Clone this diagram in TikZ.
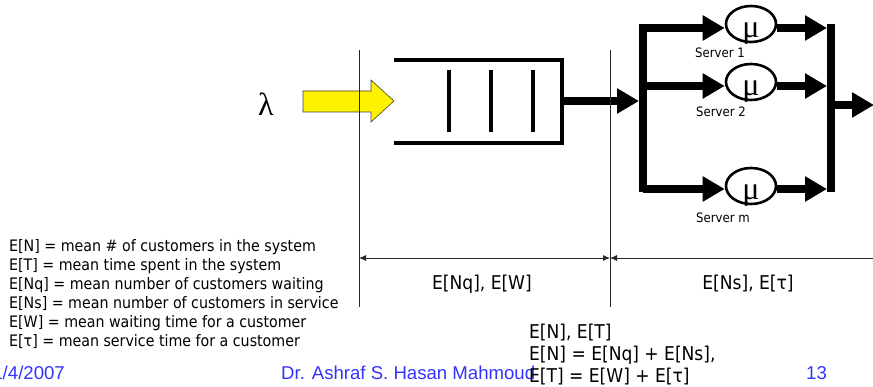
\documentclass[tikz,border=0pt]{standalone}
\usepackage{fontspec}
\setmainfont{DejaVu Sans Condensed}
\newfontfamily\footfont{Liberation Sans}
\newfontfamily\greekfont{Liberation Serif}
\usetikzlibrary{arrows.meta,shapes.geometric}

\definecolor{footblue}{RGB}{51,51,255}
\definecolor{dimgray}{RGB}{40,40,40}

\tikzset{
  fatarrow/.style={line width=7.5pt, -{Triangle[length=22pt,width=24pt]}},
  fatbar/.style={line width=8pt},
  server/.style={ellipse, draw, line width=2.6pt, minimum width=50pt, minimum height=36pt, inner sep=0pt},
  mutext/.style={anchor=base, inner sep=0pt, font=\greekfont\fontsize{32}{32}\selectfont},
  srvlabel/.style={anchor=base west, inner sep=0pt, font=\fontsize{13}{13}\selectfont},
  sepline/.style={line width=0.9pt, draw=dimgray},
  dimline/.style={line width=0.8pt, draw=dimgray},
  deftext/.style={anchor=base west, inner sep=0pt, font=\fontsize{15.8}{19}\selectfont},
  bigtext/.style={inner sep=0pt, font=\fontsize{19}{22}\selectfont},
  foottext/.style={anchor=base west, inner sep=0pt, text=footblue, font=\footfont\fontsize{18.6}{18.6}\selectfont}
}

\begin{document}
\begin{tikzpicture}[x=1pt, y=-1pt]
\useasboundingbox (0,0) rectangle (873,387);

% arrival rate and incoming arrow
\node[inner sep=0pt, font=\greekfont\fontsize{32}{32}\selectfont] (lambda) at (266,104) {λ};
\draw[fill=yellow, draw=black!75, line width=0.6pt] (303,91) -- (371,91) -- (371,80) -- (394,101)
    -- (371,122) -- (371,112) -- (303,112) -- cycle;

% the queue
\draw[line width=3.5pt] (394,60) -- (562,60) -- (562,143) -- (394,143);
\foreach \x in {449,491,533}
    \draw[line width=3.5pt] (\x,70) -- (\x,132);
\coordinate (qout) at (562,101);

% split and servers
\coordinate (splitin) at (639,101);
\draw[fatbar] (643,24.5) -- (643,192.5);
\draw[fatbar] (831,24.5) -- (831,192.5);

\node[server] (s1) at (751,24) {};
\node[server] (s2) at (751,82) {};
\node[server] (sm) at (751,186) {};
\node[mutext] (mu1) at (751,38) {μ};
\node[mutext] (mu2) at (751,96) {μ};
\node[mutext] (mum) at (751,200) {μ};
\node[srvlabel] (lab1) at (695,58) {Server 1};
\node[srvlabel] (lab2) at (696,117) {Server 2};
\node[srvlabel] (labm) at (696,223) {Server m};

\coordinate (split1) at (643,28);
\coordinate (split2) at (643,86);
\coordinate (splitm) at (643,189);
\coordinate (join1) at (827,28);
\coordinate (join2) at (827,86);
\coordinate (joinm) at (827,189);
\coordinate (joinout) at (835,105);
\coordinate (sysout) at (874,105);

\draw[fatarrow] (qout) -- (splitin);
\draw[fatarrow] (split1) -- (split1 -| s1.west);
\draw[fatarrow] (split2) -- (split2 -| s2.west);
\draw[fatarrow] (splitm) -- (splitm -| sm.west);
\draw[fatarrow] (join1 -| s1.east) -- (join1);
\draw[fatarrow] (join2 -| s2.east) -- (join2);
\draw[fatarrow] (joinm -| sm.east) -- (joinm);
\draw[fatarrow] (joinout) -- (sysout);

% separators and dimension lines
\coordinate (dimL) at (359,258);
\coordinate (dimM) at (610,258);
\coordinate (dimR) at (874,258);
\draw[sepline] (359,50) -- (359,307);
\draw[sepline] (610,50) -- (610,307);
\draw[dimline, {Latex[length=7pt,width=6pt]}-{Latex[length=7pt,width=6pt]}] (dimL) -- (dimM);
\draw[dimline, {Latex[length=7pt,width=6pt]}-] (dimM) -- (dimR);

\node[bigtext, anchor=base] (qpart) at (482,290) {E[Nq], E[W]};
\node[bigtext, anchor=base] (spart) at (748,290) {E[Ns], E[τ]};

% definitions
\foreach \t [count=\i] in {{E[N] = mean \# of customers in the system},
    {E[T] = mean time spent in the system},
    {E[Nq] = mean number of customers waiting},
    {E[Ns] = mean number of customers in service},
    {E[W] = mean waiting time for a customer},
    {E[τ] = mean service time for a customer}}
    \node[deftext] (def\i) at (9,{252+19*(\i-1)}) {\t};

% footer
\node[foottext, anchor=base east] (date) at (65,379) {1/4/2007};
\node[foottext] (author) at (281,379) {Dr. Ashraf S. Hasan Mahmoud};
\node[foottext] (page) at (806,379) {13};

\node[bigtext, anchor=base west] (tot1) at (529,338) {E[N], E[T]};
\node[bigtext, anchor=base west] (tot2) at (529,360) {E[N] = E[Nq] + E[Ns],};
\node[bigtext, anchor=base west] (tot3) at (529,382) {E[T] = E[W] + E[τ]};

\end{tikzpicture}
\end{document}
